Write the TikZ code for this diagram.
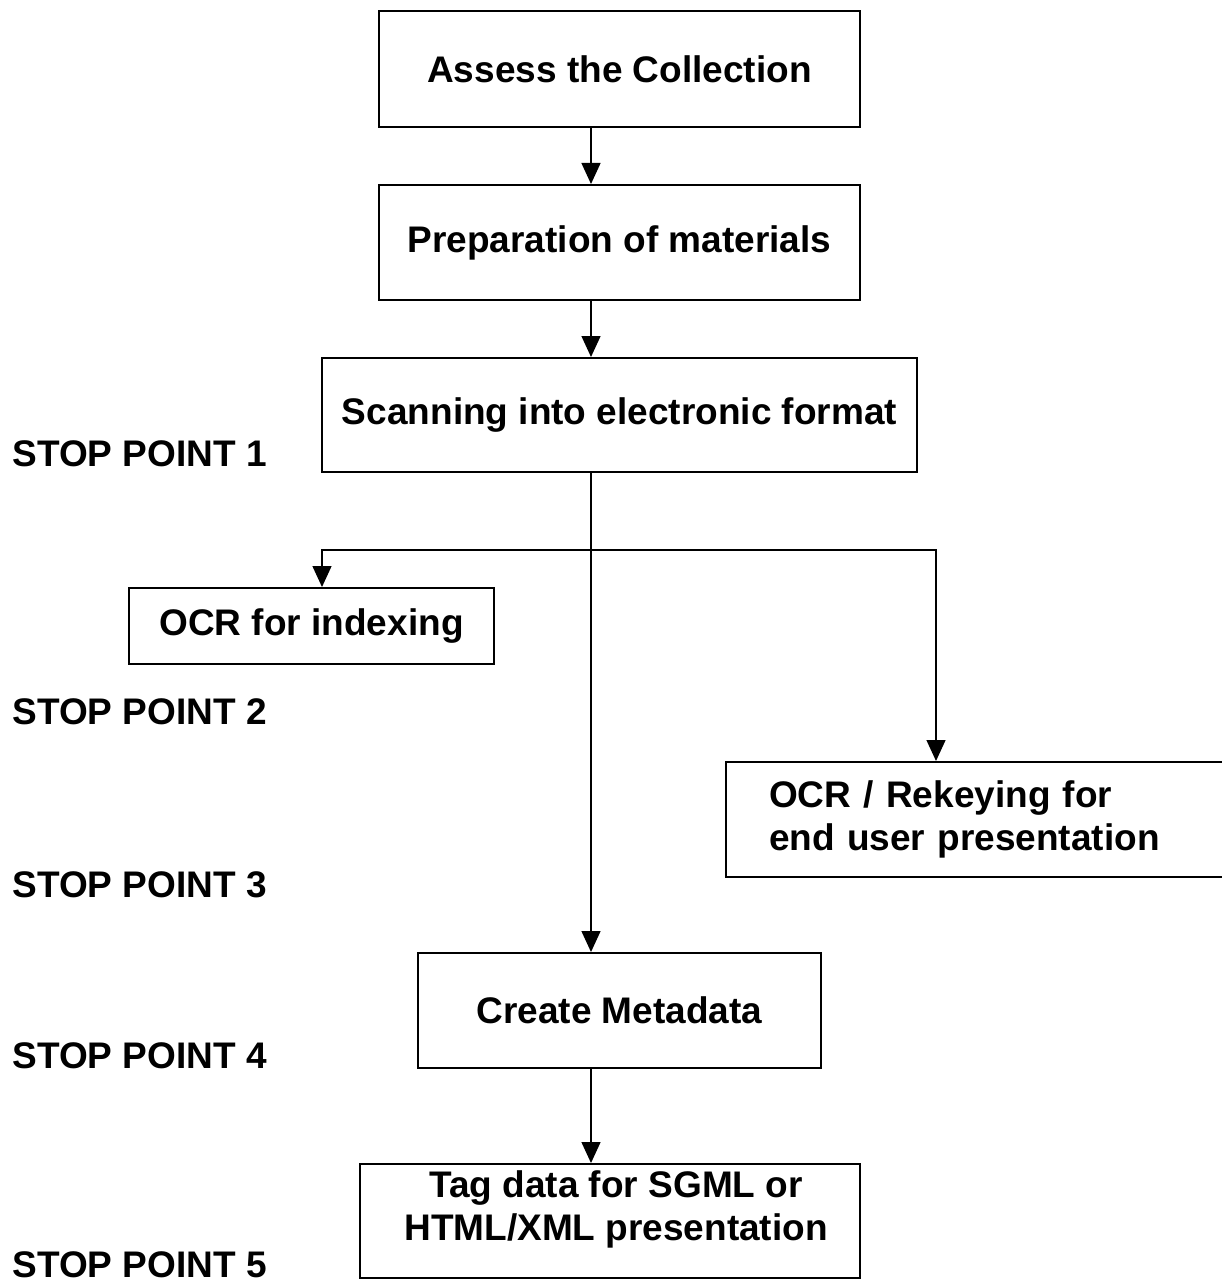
\documentclass[tikz,border=0pt]{standalone}
\usepackage{fontspec}
\setmainfont{Liberation Sans}
\usetikzlibrary{arrows.meta}
\begin{document}
\begin{tikzpicture}[x=0.5pt,y=-0.5pt,
  box/.style={draw, line width=1pt, rectangle, inner sep=0pt,
    font=\bfseries\fontsize{18.5pt}{21.5pt}\selectfont, align=center},
  txt/.style={inner sep=0pt, font=\bfseries\fontsize{18.5pt}{21.5pt}\selectfont},
  conn/.style={line width=0.7pt},
  arr/.style={conn, -{Triangle[width=9.5pt,length=10.5pt]}}]
\fill[white] (0,0) rectangle (1221,1283);
\useasboundingbox (0,0) rectangle (1221,1283);

% boxes
\node[box, minimum width=240.5pt, minimum height=58pt] (assess) at (619.5,69) {Assess the Collection};
\node[box, minimum width=240.5pt, minimum height=57.5pt] (prep) at (619.5,242.5) {Preparation of materials};
\node[box, minimum width=297.5pt, minimum height=57pt] (scan) at (619.5,415) {Scanning into electronic format};
\node[box, minimum width=182.5pt, minimum height=38pt] (ocr) at (311.5,626) {OCR for indexing};
\node[box, anchor=north west, minimum height=57.5pt, text width=215pt, align=left, inner xsep=21.5pt] (rekey) at (725,761) {OCR / Rekeying for\\end user presentation};
\node[box, minimum width=201.5pt, minimum height=57.5pt] (meta) at (619.5,1010.5) {Create Metadata};
\node[box, minimum width=250pt, minimum height=57pt] (tag) at (610,1221) {};
\node[txt, align=center] (tagtext) at (616,1209) {Tag data for SGML or\\HTML/XML presentation};

% stop points
\node[txt, anchor=west] (sp1) at (12,454) {STOP POINT 1};
\node[txt, anchor=west] (sp2) at (12,712) {STOP POINT 2};
\node[txt, anchor=west] (sp3) at (12,885) {STOP POINT 3};
\node[txt, anchor=west] (sp4) at (12,1056) {STOP POINT 4};
\node[txt, anchor=west] (sp5) at (12,1265) {STOP POINT 5};

% connectors
\coordinate (spine) at (591,0);
\coordinate (split) at (591,550);
\coordinate (bl) at (322,550);
\coordinate (brt) at (936,550);
\draw[arr] (assess.south -| spine) -- (prep.north -| spine);
\draw[arr] (prep.south -| spine) -- (scan.north -| spine);
\draw[arr] (scan.south -| spine) -- (meta.north -| spine);
\draw[arr] (split) -- (bl) -- (bl |- ocr.north);
\draw[arr] (split) -- (brt) -- (brt |- rekey.north);
\draw[arr] (meta.south -| spine) -- (tag.north -| spine);
\end{tikzpicture}
\end{document}
